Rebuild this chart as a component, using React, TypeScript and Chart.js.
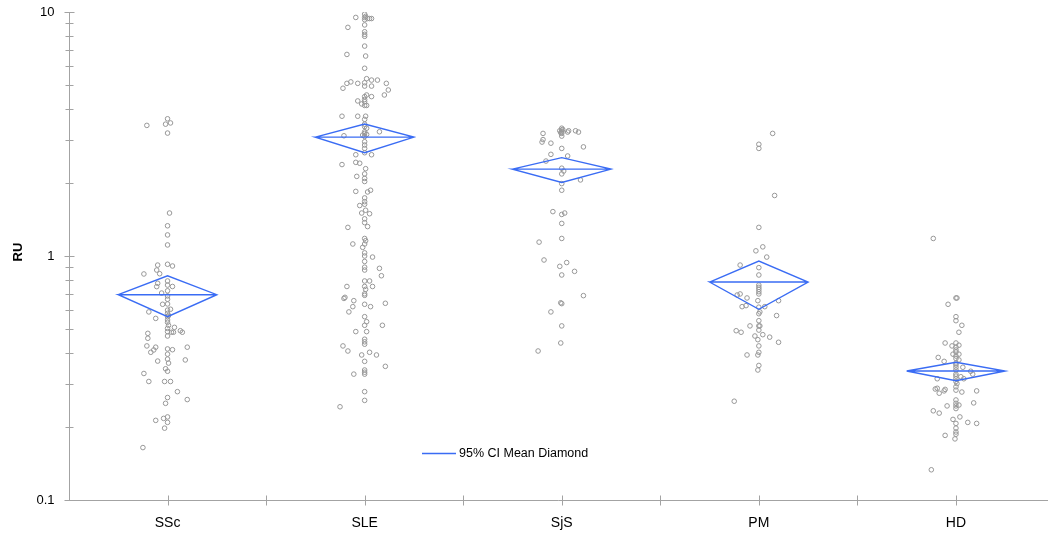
import React, { useEffect, useRef } from "react";
import { Chart, registerables } from "chart.js";

Chart.register(...registerables);

// ---------- data ----------
const categories = ["SSc", "SLE", "SjS", "PM", "HD"];
const meanRU = [0.694, 3.07, 2.27, 0.782, 0.338];
const upperCI = [0.83, 3.475, 2.53, 0.954, 0.367];
const lowerCI = [0.564, 2.65, 2.0, 0.605, 0.308];
const yMajorTicks = [0.1, 1, 10];
const yTickLabels = ["0.1", "1", "10"];
const yAxisTitle = "RU";
const legendLabel = "95% CI Mean Diamond";

// observations: [RU value, horizontal jitter in category units]
const sscObs = [
  [3.65, 0], [3.43, -0.105], [3.47, -0.01], [3.51, 0.015], [3.19, 0],
  [1.5, 0.01], [1.33, 0], [1.22, 0], [1.11, 0],
  [0.918, -0.05], [0.925, 0], [0.91, 0.025], [0.876, -0.055], [0.844, -0.12], [0.846, -0.04],
  [0.773, -0.05], [0.749, -0.055], [0.79, 0], [0.76, 0], [0.75, 0.025],
  [0.705, -0.03], [0.72, 0], [0.686, 0], [0.665, 0], [0.634, -0.025], [0.636, 0],
  [0.59, -0.095], [0.555, -0.06], [0.6, 0], [0.605, 0.015], [0.582, 0], [0.564, 0], [0.547, 0],
  [0.535, 0], [0.57, 0.005], [0.52, 0.005], [0.51, 0.035], [0.505, 0], [0.49, 0], [0.487, 0.02],
  [0.487, 0.03], [0.494, 0.065], [0.487, 0.075], [0.47, 0], [0.482, -0.1], [0.46, -0.1],
  [0.428, -0.105], [0.403, -0.085], [0.412, -0.07], [0.423, -0.06], [0.416, 0], [0.396, 0],
  [0.413, 0.025], [0.423, 0.1], [0.371, -0.05], [0.378, 0], [0.364, 0.005], [0.375, 0.09],
  [0.345, -0.01], [0.337, 0], [0.33, -0.12], [0.306, -0.095], [0.306, -0.015], [0.306, 0.015],
  [0.278, 0.05], [0.258, 0.1], [0.263, 0], [0.249, -0.01],
  [0.212, -0.06], [0.219, 0], [0.216, -0.02], [0.208, 0], [0.197, -0.015], [0.164, -0.125],
];

const sleObs = [
  [9.5, -0.045], [9.8, 0], [9.5, 0], [9.3, 0], [9.4, 0.015], [9.4, 0.025], [9.4, 0.035], [9.6, 0.005],
  [8.85, 0], [8.65, -0.085], [8.3, 0], [8.1, 0], [7.95, 0], [7.25, 0], [6.7, -0.09], [6.6, 0.005],
  [5.88, 0], [4.87, -0.11], [5.1, -0.09], [5.17, -0.07], [5.1, -0.035], [5.13, 0], [4.97, 0],
  [5.33, 0.01], [5.26, 0.035], [5.26, 0.065], [4.97, 0.035], [5.1, 0.11], [4.79, 0.12], [4.57, 0.1],
  [4.5, 0], [4.38, 0], [4.57, 0.01], [4.5, 0.035], [4.32, -0.035], [4.2, -0.015], [4.14, 0],
  [4.14, 0.01], [4.29, 0], [3.74, -0.115], [3.74, -0.035], [3.74, 0.005], [3.63, 0], [3.47, 0],
  [3.39, 0], [3.34, 0.01], [3.23, 0], [3.18, 0], [3.15, 0.01], [3.13, -0.01], [3.09, 0],
  [3.11, -0.105], [3.23, 0.075], [2.94, 0], [2.85, 0], [2.76, 0], [2.6, -0.045], [2.65, 0],
  [2.6, 0.035], [2.37, -0.115], [2.42, -0.045], [2.4, -0.025], [2.28, 0.005], [2.17, 0],
  [2.12, -0.04], [2.08, 0], [2.02, 0], [1.84, -0.045], [1.83, 0.015], [1.86, 0.03], [1.73, 0],
  [1.67, 0], [1.63, 0], [1.61, -0.025], [1.54, 0.005], [1.5, -0.015], [1.49, 0.025], [1.42, 0],
  [1.37, 0], [1.32, 0.015], [1.31, -0.085], [1.18, 0], [1.155, 0.005], [1.12, -0.06], [1.12, 0],
  [1.085, -0.01], [1.03, 0], [1.0, 0], [0.99, 0.04], [0.95, 0], [0.9, 0], [0.89, 0.075],
  [0.83, 0.085], [0.876, 0], [0.75, -0.09], [0.79, 0], [0.79, 0.025], [0.75, 0], [0.73, 0.005],
  [0.75, 0.04], [0.7, 0], [0.69, 0], [0.677, -0.1], [0.67, -0.105], [0.656, -0.055], [0.62, -0.06],
  [0.59, -0.08], [0.634, 0], [0.62, 0.03], [0.64, 0.105], [0.564, 0], [0.538, 0.01], [0.52, 0],
  [0.49, 0.01], [0.49, -0.045], [0.52, 0.09], [0.456, 0], [0.445, 0], [0.435, 0], [0.428, -0.11],
  [0.408, -0.085], [0.393, -0.015], [0.403, 0.025], [0.393, 0.06], [0.37, 0], [0.353, 0.105],
  [0.341, 0], [0.334, 0], [0.328, 0], [0.328, -0.055], [0.278, 0], [0.256, 0], [0.241, -0.125],
];

const sjsObs = [
  [3.34, 0], [3.28, 0], [3.23, 0], [3.18, 0], [3.1, 0], [3.26, -0.01], [3.26, 0.035], [3.22, 0.03],
  [3.26, 0.07], [3.22, 0.085], [3.3, 0.005], [3.2, -0.005], [3.18, -0.095], [3.0, -0.095],
  [2.93, -0.1], [2.9, -0.055], [2.8, 0.11], [2.76, 0], [2.61, -0.055], [2.57, 0.03], [2.45, -0.08],
  [2.29, 0], [2.23, 0.01], [2.17, 0], [2.05, 0.095], [1.98, 0], [1.86, 0], [1.52, -0.045],
  [1.48, 0], [1.5, 0.015], [1.36, 0], [1.18, 0], [1.14, -0.115], [0.963, -0.09], [0.907, -0.01],
  [0.94, 0.025], [0.865, 0.065], [0.836, 0], [0.688, 0.11], [0.643, -0.005], [0.638, 0],
  [0.59, -0.055], [0.517, 0], [0.44, -0.005], [0.408, -0.12],
];

const pmObs = [
  [3.18, 0.07], [2.87, 0], [2.76, 0], [1.77, 0.08], [1.31, 0], [1.09, 0.02], [1.05, -0.015],
  [0.99, 0.04], [0.918, -0.095], [0.896, 0], [0.836, 0], [0.76, 0], [0.744, 0], [0.73, 0],
  [0.714, 0], [0.699, 0], [0.692, -0.11], [0.699, -0.095], [0.673, -0.06], [0.62, -0.085],
  [0.626, -0.065], [0.656, -0.005], [0.617, 0], [0.59, 0.005], [0.58, 0], [0.62, 0.03],
  [0.656, 0.1], [0.57, 0.09], [0.543, 0], [0.517, -0.045], [0.517, 0], [0.517, 0.005],
  [0.497, 0], [0.494, -0.115], [0.487, -0.09], [0.47, -0.02], [0.476, 0.02], [0.465, 0.055],
  [0.443, 0.1], [0.454, -0.005], [0.428, 0], [0.393, -0.06], [0.393, -0.005], [0.403, 0],
  [0.356, 0], [0.341, -0.005], [0.254, -0.125],
];

const hdObs = [
  [1.18, -0.115], [0.673, 0], [0.673, 0.005], [0.634, -0.04], [0.564, 0], [0.543, 0], [0.52, 0.03],
  [0.487, 0.015], [0.44, -0.055], [0.428, -0.02], [0.44, 0], [0.423, 0], [0.431, 0.015],
  [0.412, 0], [0.404, 0], [0.396, -0.015], [0.396, 0.015], [0.389, 0], [0.38, 0], [0.384, -0.09],
  [0.37, -0.06], [0.375, 0.015], [0.364, 0], [0.358, 0], [0.35, 0], [0.35, 0.035], [0.341, 0],
  [0.337, 0.075], [0.328, 0.085], [0.328, 0], [0.322, 0], [0.32, 0.025], [0.314, 0.04],
  [0.314, -0.095], [0.314, 0], [0.306, 0], [0.3, 0.005], [0.285, -0.105], [0.287, -0.095],
  [0.284, -0.055], [0.28, -0.06], [0.274, -0.085], [0.291, 0], [0.282, 0], [0.277, 0.03],
  [0.28, 0.105], [0.257, 0], [0.249, 0], [0.243, 0], [0.237, 0], [0.245, 0.015], [0.243, -0.045],
  [0.25, 0.09], [0.232, -0.115], [0.227, -0.085], [0.219, 0.02], [0.214, -0.015], [0.206, 0],
  [0.197, 0], [0.19, 0], [0.186, 0], [0.178, -0.005], [0.208, 0.06], [0.206, 0.105],
  [0.184, -0.055], [0.133, -0.125],
];

const groups = [sscObs, sleObs, sjsObs, pmObs, hdObs];

// ---------- style ----------
const FONT = '"Liberation Sans", Arial, sans-serif';
const AXIS_COLOR = "#a3a3a3";
const DIAMOND_COLOR = "#3a6cf4";
const POINT_COLOR = "#979797";
const DIAMOND_HALF = 0.25;

const axesPlugin = {
  id: "jmpAxes",
  afterDraw(chart: any) {
    const { ctx, chartArea, scales } = chart;
    const xs = scales.x;
    const ys = scales.y;
    ctx.save();
    ctx.strokeStyle = AXIS_COLOR;
    ctx.lineWidth = 1;
    const ax = Math.round(chartArea.left) + 0.5;
    const ay = Math.round(chartArea.bottom) + 0.5;
    // axis lines
    ctx.beginPath();
    ctx.moveTo(ax, chartArea.top);
    ctx.lineTo(ax, ay);
    ctx.lineTo(chart.width, ay);
    ctx.stroke();

    // y ticks (major + minor)
    const decades = [0.1, 1];
    ctx.beginPath();
    decades.forEach((d) => {
      for (let k = 1; k <= 9; k++) {
        const py = Math.round(ys.getPixelForValue(d * k)) + 0.5;
        const len = k === 1 ? 5 : 4;
        ctx.moveTo(ax - len, py);
        ctx.lineTo(ax + len, py);
      }
    });
    {
      const py = Math.round(ys.getPixelForValue(10)) + 0.5;
      ctx.moveTo(ax - 5, py);
      ctx.lineTo(ax + 5, py);
    }
    // x ticks
    for (let i = 0; i < categories.length; i++) {
      const px = Math.round(xs.getPixelForValue(i)) + 0.5;
      ctx.moveTo(px, ay - 5);
      ctx.lineTo(px, ay + 5);
      if (i < categories.length - 1) {
        const pb = Math.round(xs.getPixelForValue(i + 0.5)) + 0.5;
        ctx.moveTo(pb, ay - 5);
        ctx.lineTo(pb, ay + 5);
      }
    }
    ctx.stroke();

    // y tick labels
    ctx.fillStyle = "#000";
    ctx.font = `13px ${FONT}`;
    ctx.textAlign = "right";
    ctx.textBaseline = "middle";
    yMajorTicks.forEach((v, i) => {
      ctx.fillText(yTickLabels[i], ax - 15, ys.getPixelForValue(v));
    });

    // x labels
    ctx.font = `14px ${FONT}`;
    ctx.textAlign = "center";
    categories.forEach((c, i) => {
      ctx.fillText(c, xs.getPixelForValue(i), ay + 23);
    });

    // y axis title
    ctx.save();
    ctx.translate(18, 252);
    ctx.rotate(-Math.PI / 2);
    ctx.font = `bold 13px ${FONT}`;
    ctx.textAlign = "center";
    ctx.fillText(yAxisTitle, 0, 0);
    ctx.restore();

    // legend
    ctx.strokeStyle = DIAMOND_COLOR;
    ctx.lineWidth = 1.3;
    ctx.beginPath();
    ctx.moveTo(422, 453.5);
    ctx.lineTo(456, 453.5);
    ctx.stroke();
    ctx.fillStyle = "#000";
    ctx.font = `12.5px ${FONT}`;
    ctx.textAlign = "left";
    ctx.fillText(legendLabel, 459, 454);
    ctx.restore();
  },
};

export default function App() {
  const ref = useRef<HTMLCanvasElement | null>(null);
  useEffect(() => {
    if (!ref.current) return;
    const pointData = groups.flatMap((g, i) => g.map(([v, j]) => ({ x: i + j, y: v })));
    const diamondSets = categories.map((_, i) => ({
      type: "line" as const,
      data: [
        { x: i - DIAMOND_HALF, y: meanRU[i] },
        { x: i, y: upperCI[i] },
        { x: i + DIAMOND_HALF, y: meanRU[i] },
        { x: i, y: lowerCI[i] },
        { x: i - DIAMOND_HALF, y: meanRU[i] },
        { x: i + DIAMOND_HALF, y: meanRU[i] },
      ],
      borderColor: DIAMOND_COLOR,
      borderWidth: 1.4,
      pointRadius: 0,
      fill: false,
      tension: 0,
      order: 0,
    }));
    const chart = new Chart(ref.current, {
      type: "scatter",
      data: {
        datasets: [
          {
            data: pointData,
            pointRadius: 2.3,
            borderWidth: 1,
            borderColor: POINT_COLOR,
            backgroundColor: "rgba(255,255,255,0)",
            order: 1,
          } as any,
          ...diamondSets,
        ],
      },
      options: {
        responsive: true,
        maintainAspectRatio: false,
        animation: false,
        layout: { autoPadding: false, padding: { left: 69, right: 0, top: 12, bottom: 33 } },
        scales: {
          x: { type: "linear", min: -0.5, max: 4.467, display: false },
          y: { type: "logarithmic", min: 0.1, max: 10, display: false },
        },
        plugins: { legend: { display: false }, tooltip: { enabled: false } },
        events: [],
      },
      plugins: [axesPlugin],
    });
    return () => chart.destroy();
  }, []);
  return (
    <div style={{ position: "absolute", left: 0, top: 0, width: 1048, height: 533, background: "#fff" }}>
      <canvas ref={ref} />
    </div>
  );
}
